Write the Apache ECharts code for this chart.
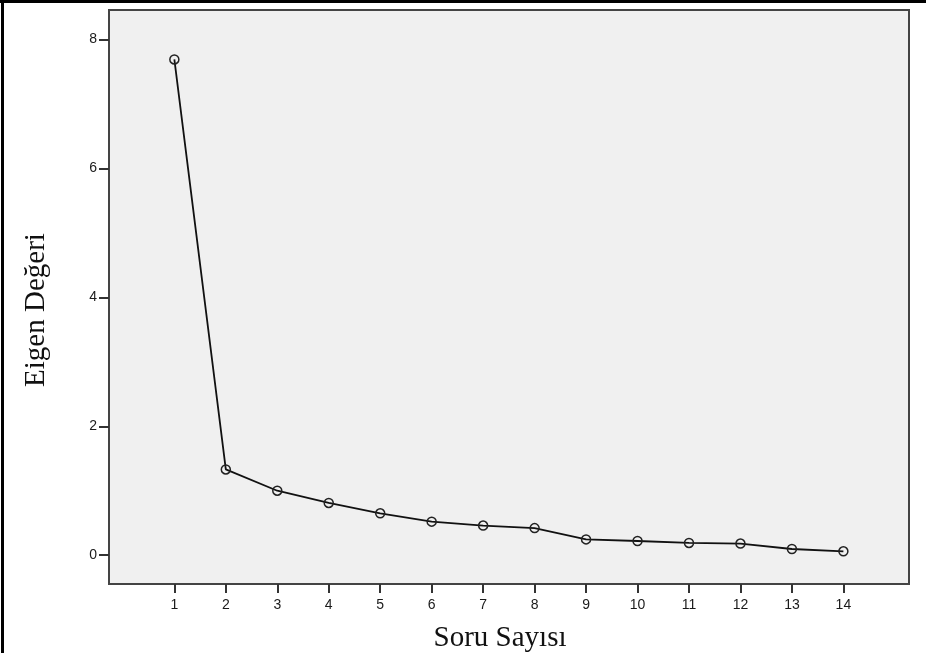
<!DOCTYPE html>
<html>
<head>
<meta charset="utf-8">
<script src="https://cdn.jsdelivr.net/npm/echarts@6/dist/echarts.min.js"></script>
<style>
  html, body { margin: 0; padding: 0; background: #fff; }
  #chart { width: 926px; height: 653px; }
</style>
</head>
<body>
<div id="chart"></div>
<script>
  // scree plot values
  var questions = [1, 2, 3, 4, 5, 6, 7, 8, 9, 10, 11, 12, 13, 14]
  var eigenvalues = [7.69, 1.33, 1.00, 0.81, 0.65, 0.52, 0.46, 0.42, 0.245, 0.22, 0.19, 0.18, 0.096, 0.06]
  var xTicks = [1, 2, 3, 4, 5, 6, 7, 8, 9, 10, 11, 12, 13, 14]
  var yTicks = [0, 2, 4, 6, 8]

  var points = questions.map(function (q, i) {
    return [q, eigenvalues[i]]
  })

  var tickLabel = {
    color: '#1a1a1a',
    fontFamily: 'Liberation Sans',
    fontSize: 14
  }

  var chart = echarts.init(document.getElementById('chart'))
  var option = {
    animation: false,
    grid: {
      left: 109,
      right: 17,
      top: 10,
      bottom: 69,
      show: true,
      backgroundColor: '#f0f0f0',
      borderColor: '#444',
      borderWidth: 2
    },
    xAxis: {
      type: 'value',
      min: -0.27,
      max: 15.275,
      splitLine: { show: false },
      axisLine: { show: false, onZero: false },
      axisTick: {
        show: true,
        customValues: xTicks,
        length: 9,
        lineStyle: { color: '#333', width: 2 }
      },
      axisLabel: Object.assign({ customValues: xTicks, margin: 14 }, tickLabel)
    },
    yAxis: {
      type: 'value',
      min: -0.447,
      max: 8.457,
      splitLine: { show: false },
      axisLine: { show: false, onZero: false },
      axisTick: {
        show: true,
        customValues: yTicks,
        length: 10,
        lineStyle: { color: '#333', width: 2 }
      },
      axisLabel: Object.assign({ customValues: yTicks, margin: 12 }, tickLabel)
    },
    graphic: [
      {
        type: 'text',
        x: 500,
        y: 638,
        style: {
          text: 'Soru Sayısı',
          font: '29px "Liberation Serif"',
          fill: '#111',
          align: 'center',
          verticalAlign: 'middle'
        }
      },
      {
        type: 'text',
        x: 36,
        y: 310,
        rotation: Math.PI / 2,
        style: {
          text: 'Eigen Değeri',
          font: '29px "Liberation Serif"',
          fill: '#111',
          align: 'center',
          verticalAlign: 'middle'
        }
      },
      {
        type: 'line',
        shape: { x1: 0, y1: 1.5, x2: 926, y2: 1.5 },
        style: { stroke: '#000', lineWidth: 3 }
      },
      {
        type: 'line',
        shape: { x1: 2.5, y1: 0, x2: 2.5, y2: 653 },
        style: { stroke: '#000', lineWidth: 3 }
      }
    ],
    series: [{
      type: 'line',
      data: points,
      symbol: 'circle',
      symbolSize: 9,
      lineStyle: { color: '#111', width: 1.8 },
      itemStyle: {
        color: 'rgba(0,0,0,0)',
        borderColor: '#222',
        borderWidth: 1.5
      }
    }]
  }
  chart.setOption(option)
</script>
</body>
</html>
